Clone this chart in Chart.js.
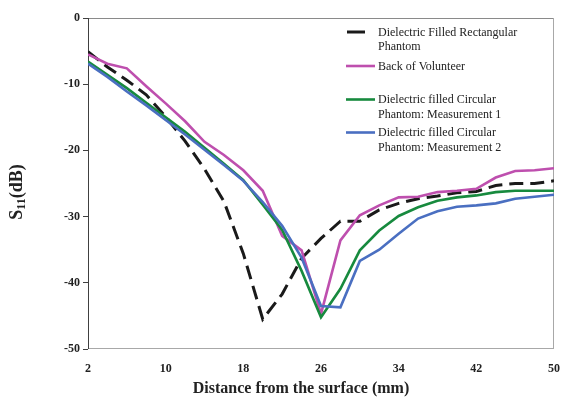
<!DOCTYPE html>
<html><head><meta charset="utf-8">
<script src="https://cdn.jsdelivr.net/npm/chart.js@4.4.0/dist/chart.umd.min.js"></script>
<style>html,body{margin:0;padding:0;background:#fff;}#wrap{width:563px;height:399px;}</style>
</head><body><div id="wrap"><canvas id="c" width="563" height="399"></canvas></div>
<script>
const distances = [2,4,6,8,10,12,14,16,18,20,22,24,26,28,30,32,34,36,38,40,42,44,46,48,50];
const rectPhantom = [-5.1,-7.4,-9.4,-11.6,-14.9,-18.6,-22.8,-27.7,-35.6,-45.5,-41.7,-36.3,-33.3,-30.7,-30.7,-29.0,-28.0,-27.3,-26.9,-26.4,-26.2,-25.3,-25.0,-25.0,-24.6];
const backVolunteer = [-5.5,-6.9,-7.6,-10.3,-12.9,-15.6,-18.7,-20.7,-23.0,-26.1,-32.9,-35.1,-44.7,-33.6,-29.8,-28.3,-27.1,-27.0,-26.3,-26.1,-25.8,-24.1,-23.1,-23.0,-22.7];
const circMeas1 = [-6.6,-8.6,-10.6,-12.8,-15.0,-17.2,-19.6,-22.0,-24.5,-28.2,-32.0,-38.2,-45.2,-40.9,-35.1,-32.1,-29.9,-28.6,-27.6,-27.1,-26.8,-26.3,-26.1,-26.1,-26.1];
const circMeas2 = [-6.9,-8.9,-11.1,-13.2,-15.4,-17.6,-19.9,-22.2,-24.6,-27.8,-31.4,-36.2,-43.5,-43.7,-36.7,-35.0,-32.6,-30.3,-29.2,-28.5,-28.3,-28.0,-27.3,-27.0,-26.7];
const xTicks = [2,10,18,26,34,42,50];
const yTicks = [0,-10,-20,-30,-40,-50];
const seriesLabels = [
  ["Dielectric Filled Rectangular","Phantom"],
  ["Back of Volunteer"],
  ["Dielectric filled Circular","Phantom: Measurement 1"],
  ["Dielectric filled Circular","Phantom: Measurement 2"]
];
const xTitle = "Distance from the surface (mm)";
const yTitleMain = "S", yTitleSub = "11", yTitleRest = "(dB)";

const colors = ['#1a1a1a', '#be4fae', '#178a3e', '#4a6fc1'];
const seriesValues = [rectPhantom, backVolunteer, circMeas1, circMeas2];
const SERIF = "'Liberation Serif', 'Times New Roman', serif";

const datasets = seriesValues.map((vals, i) => ({
  label: seriesLabels[i].join(' '),
  data: distances.map((d, j) => ({x: d, y: vals[j]})),
  borderColor: colors[i],
  backgroundColor: colors[i],
  borderWidth: i === 0 ? 3 : 2.6,
  borderDash: i === 0 ? [14, 7] : [],
  pointRadius: 0,
  tension: 0,
  fill: false,
  order: 3 - i
}));

const decor = {
  id: 'decor',
  beforeDatasetsDraw(chart) {
    const {ctx, chartArea: a} = chart;
    ctx.save();
    ctx.lineWidth = 1;
    ctx.strokeStyle = '#8a8a8a';
    ctx.beginPath(); ctx.moveTo(a.left, a.top + 0.5); ctx.lineTo(a.right, a.top + 0.5); ctx.stroke();
    ctx.strokeStyle = '#a8a8a8';
    ctx.beginPath(); ctx.moveTo(a.right - 0.5, a.top); ctx.lineTo(a.right - 0.5, a.bottom); ctx.stroke();
    ctx.beginPath(); ctx.moveTo(a.left, a.bottom - 0.5); ctx.lineTo(a.right, a.bottom - 0.5); ctx.stroke();
    ctx.strokeStyle = '#404040';
    ctx.beginPath(); ctx.moveTo(a.left + 0.5, a.top); ctx.lineTo(a.left + 0.5, a.bottom); ctx.stroke();
    ctx.restore();
  },
  afterDraw(chart) {
    const {ctx} = chart;
    ctx.save();
    ctx.fillStyle = '#222';
    ctx.font = "bold 16px " + SERIF;
    ctx.textAlign = 'center';
    ctx.textBaseline = 'middle';
    ctx.fillText(xTitle, 301, 389);
    ctx.save();
    ctx.translate(16, 192);
    ctx.rotate(-Math.PI / 2);
    ctx.font = "bold 18px " + SERIF;
    const wS = ctx.measureText(yTitleMain).width;
    const wR = ctx.measureText(yTitleRest).width;
    ctx.font = "bold 12px " + SERIF;
    const wSub = ctx.measureText(yTitleSub).width;
    const total = wS + wSub + wR;
    const x0 = -total / 2;
    ctx.textAlign = 'left';
    ctx.textBaseline = 'alphabetic';
    ctx.font = "bold 18px " + SERIF;
    ctx.fillText(yTitleMain, x0, 6);
    ctx.font = "bold 12px " + SERIF;
    ctx.fillText(yTitleSub, x0 + wS, 9);
    ctx.font = "bold 18px " + SERIF;
    ctx.fillText(yTitleRest, x0 + wS + wSub, 6);
    ctx.restore();
    const lineY = [32, 66, 99.5, 132.5];
    const textY = [[33, 47], [66.5], [100, 115], [133, 148]];
    ctx.font = "12px " + SERIF;
    ctx.textAlign = 'left';
    ctx.textBaseline = 'middle';
    chart.data.datasets.forEach((ds, i) => {
      ctx.strokeStyle = ds.borderColor;
      ctx.lineWidth = ds.borderWidth;
      ctx.setLineDash([]);
      ctx.beginPath();
      if (i === 0) { ctx.moveTo(347, lineY[i]); ctx.lineTo(365, lineY[i]); }
      else { ctx.moveTo(346, lineY[i]); ctx.lineTo(375, lineY[i]); }
      ctx.stroke();
      ctx.fillStyle = '#222';
      seriesLabels[i].forEach((t, k) => ctx.fillText(t, 378, textY[i][k]));
    });
    ctx.restore();
  }
};

new Chart(document.getElementById('c'), {
  type: 'line',
  data: { datasets },
  options: {
    responsive: false,
    animation: false,
    devicePixelRatio: 1,
    layout: { padding: { top: 18, right: 9, left: 0, bottom: 0 } },
    plugins: { legend: { display: false }, tooltip: { enabled: false } },
    scales: {
      x: {
        type: 'linear', min: 2, max: 50,
        afterBuildTicks: s => { s.ticks = xTicks.map(v => ({value: v})); },
        afterFit: s => { s.height = 50; s.paddingLeft = 0; s.paddingRight = 0; },
        grid: { display: false },
        border: { display: false },
        ticks: { padding: 5, color: '#222', font: { family: SERIF, size: 12, weight: 'bold' }, maxRotation: 0, autoSkip: false }
      },
      y: {
        type: 'linear', min: -50, max: 0,
        afterBuildTicks: s => { s.ticks = yTicks.map(v => ({value: v})); },
        afterFit: s => { s.width = 88; s.paddingTop = 0; s.paddingBottom = 0; },
        grid: { display: true, drawOnChartArea: false, drawTicks: true, tickLength: 5, color: '#404040' },
        border: { display: false },
        ticks: { padding: 3, color: '#222', font: { family: SERIF, size: 12, weight: 'bold' }, autoSkip: false }
      }
    }
  },
  plugins: [decor]
});
</script>
</body></html>
